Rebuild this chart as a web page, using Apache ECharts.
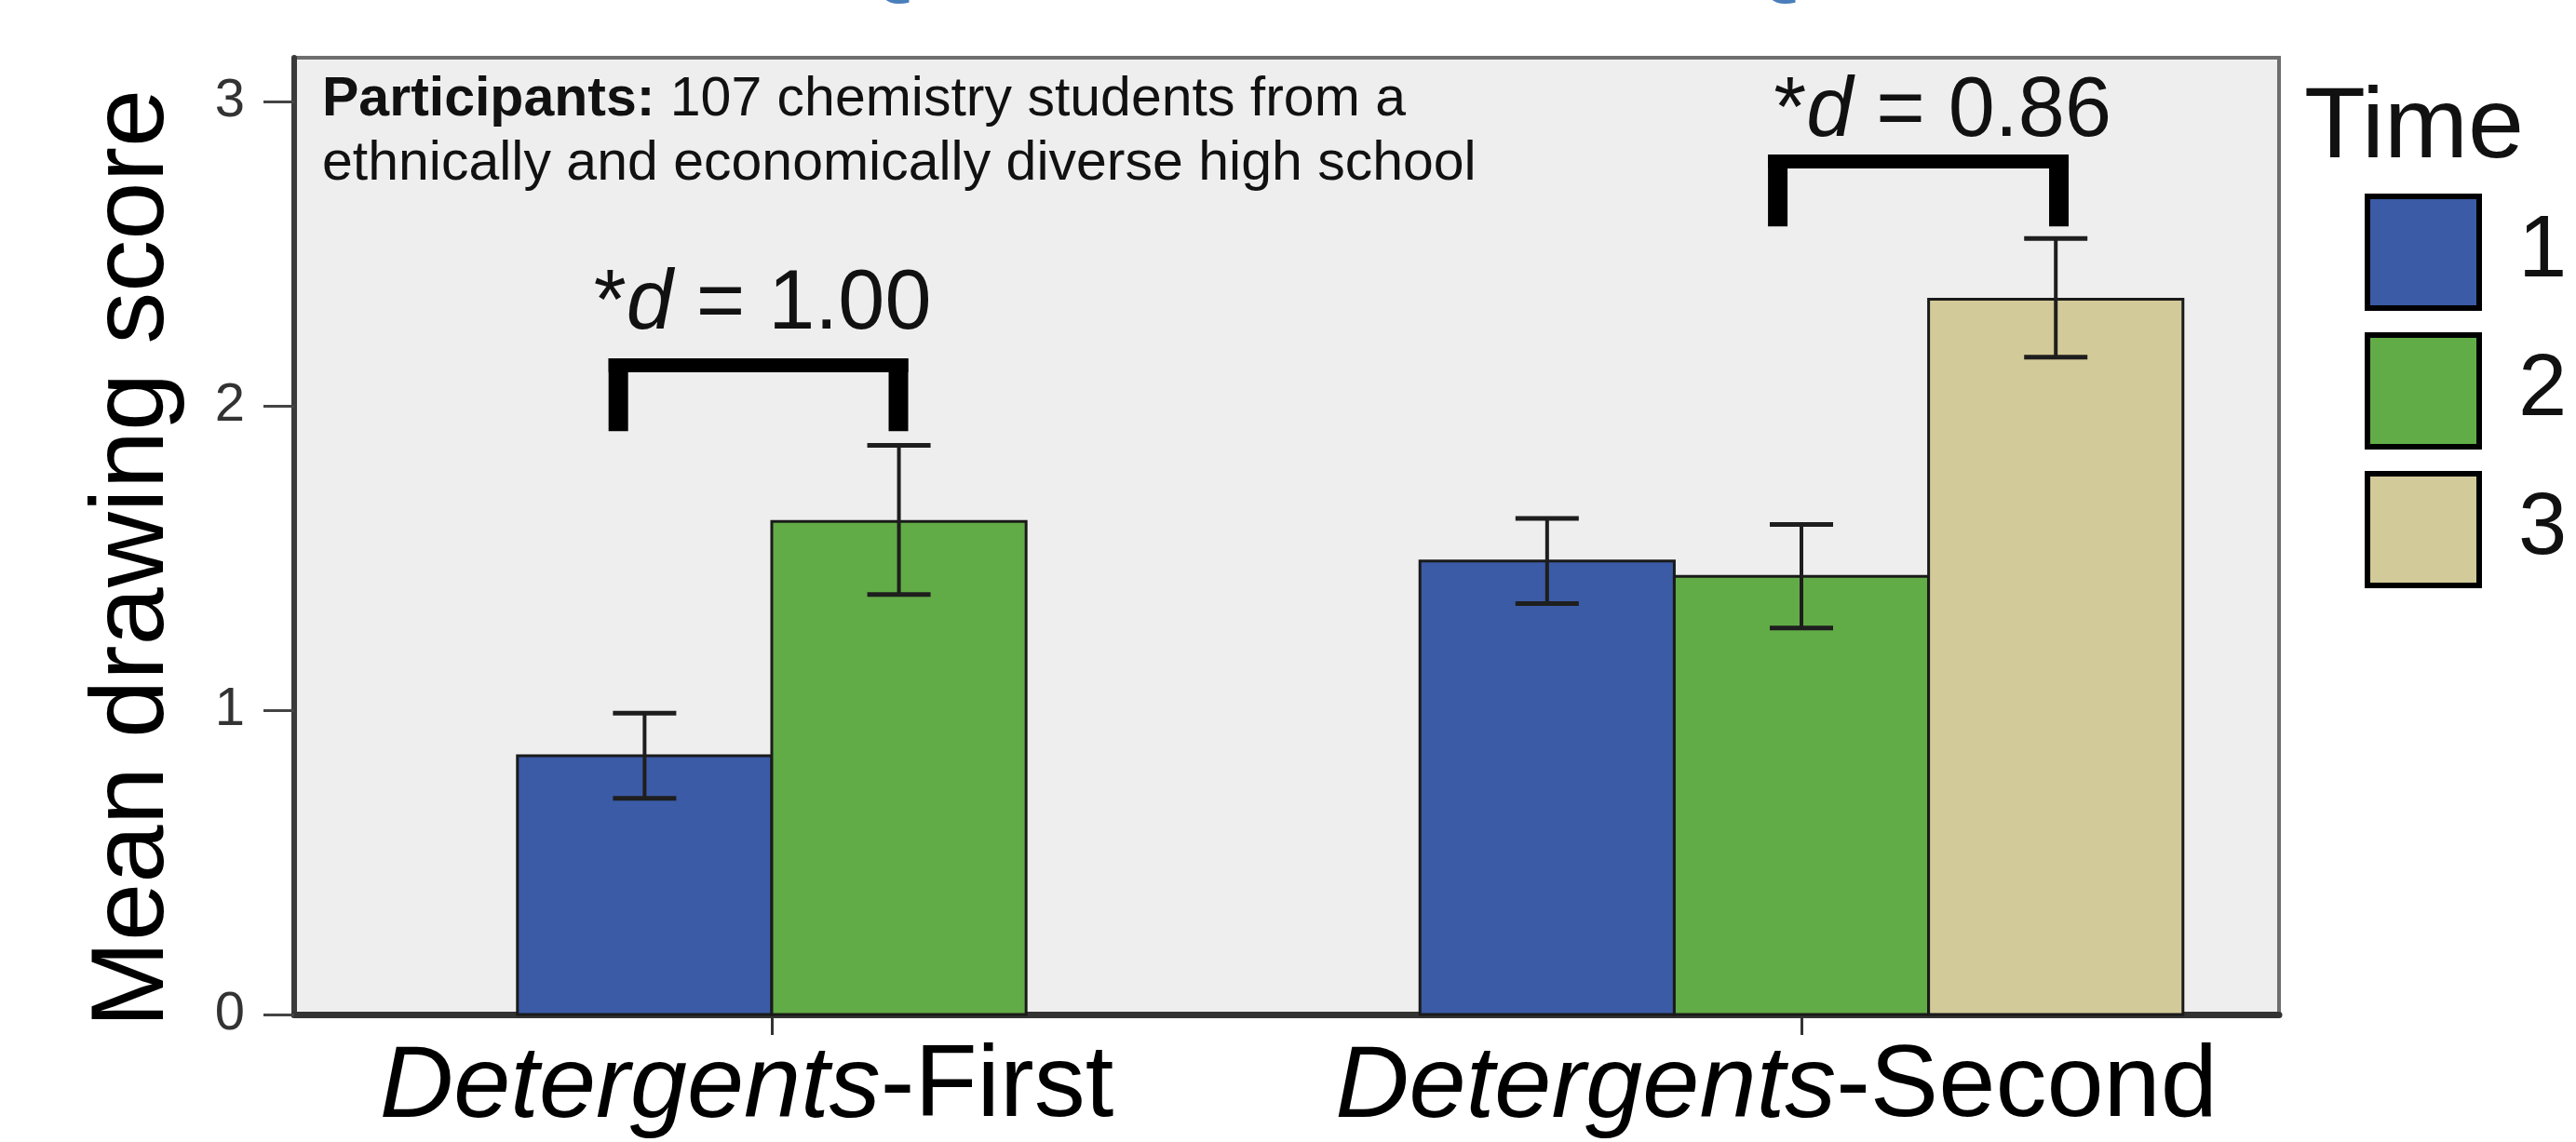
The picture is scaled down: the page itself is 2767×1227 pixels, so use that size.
<!DOCTYPE html>
<html>
<head>
<meta charset="utf-8">
<title>Mean drawing score</title>
<script src="https://cdn.jsdelivr.net/npm/echarts@6.0.0/dist/echarts.min.js"></script>
<style>
  html, body { margin: 0; padding: 0; background: #ffffff; }
  #chart { width: 2767px; height: 1227px; }
</style>
</head>
<body>
<div id="chart"></div>
<script>
// ---- data ----
var categories = ['Detergents-First', 'Detergents-Second'];
var timeNames = ['1', '2', '3'];
var time1 = [0.85, 1.49];
var time2 = [1.62, 1.44];
var time3 = [null, 2.35];
var time1Low = [0.71, 1.35];
var time1High = [0.99, 1.63];
var time2Low = [1.38, 1.27];
var time2High = [1.87, 1.61];
var time3Low = [null, 2.16];
var time3High = [null, 2.55];
var yTicks = [0, 1, 2, 3];
var effectSizes = ['1.00', '0.86'];
var headingWords = ['Results:', 'Quantitative', 'and', 'Qualitative'];

var FONT = 'Liberation Sans, Arial, Helvetica, sans-serif';
var colors = ['#3b5ba6', '#62ac47', '#d2ca98'];
var seriesValues = [time1, time2, time3];
var seriesLow = [time1Low, time2Low, time3Low];
var seriesHigh = [time1High, time2High, time3High];

// bar width in x-axis units (one unit = distance between the two groups)
var BAR_W = 0.247;

// brackets over the compared bars (data units), one per effect size
var brackets = [
  { x1: -0.149, x2: 0.123, top: 2.156, bottom: 1.917, textX: -0.173, textY: 2.251 },
  { x1: 0.977, x2: 1.250, top: 2.826, bottom: 2.590, textX: 0.973, textY: 2.884 }
];

function barRenderer(s) {
  return function (params, api) {
    var ci = api.value(0);
    var val = api.value(1);
    var lo = api.value(2);
    var hi = api.value(3);
    var present = [];
    for (var k = 0; k < seriesValues.length; k++) {
      if (seriesValues[k][ci] != null) present.push(k);
    }
    var rank = present.indexOf(s);
    var mid = ci + (rank - (present.length - 1) / 2) * BAR_W;
    var pBase = api.coord([mid - BAR_W / 2, 0]);
    var pTop = api.coord([mid + BAR_W / 2, val]);
    var cx = api.coord([mid, 0])[0];
    var yLo = api.coord([mid, lo])[1];
    var yHi = api.coord([mid, hi])[1];
    var capHalf = 34;
    return {
      type: 'group',
      children: [
        {
          type: 'rect',
          shape: { x: pBase[0], y: pTop[1], width: pTop[0] - pBase[0], height: pBase[1] - pTop[1] },
          style: { fill: colors[s], stroke: '#1a1a1a', lineWidth: 3 }
        },
        { type: 'line', shape: { x1: cx, y1: yLo, x2: cx, y2: yHi }, style: { stroke: '#1e1e1e', lineWidth: 4 } },
        { type: 'line', shape: { x1: cx - capHalf, y1: yHi, x2: cx + capHalf, y2: yHi }, style: { stroke: '#1e1e1e', lineWidth: 5 } },
        { type: 'line', shape: { x1: cx - capHalf, y1: yLo, x2: cx + capHalf, y2: yLo }, style: { stroke: '#1e1e1e', lineWidth: 5 } }
      ]
    };
  };
}

function bracketRenderer(params, api) {
  var b = brackets[params.dataIndex];
  var legW = 21, barH = 15;
  var pL = api.coord([b.x1, b.top]);
  var pR = api.coord([b.x2, b.bottom]);
  var pT = api.coord([b.textX, b.textY]);
  return {
    type: 'group',
    children: [
      { type: 'rect', shape: { x: pL[0] - legW / 2, y: pL[1], width: pR[0] - pL[0] + legW, height: barH }, style: { fill: '#000' } },
      { type: 'rect', shape: { x: pL[0] - legW / 2, y: pL[1], width: legW, height: pR[1] - pL[1] }, style: { fill: '#000' } },
      { type: 'rect', shape: { x: pR[0] - legW / 2, y: pL[1], width: legW, height: pR[1] - pL[1] }, style: { fill: '#000' } },
      {
        type: 'text',
        style: {
          x: pT[0], y: pT[1] - 26,
          text: '{r|*}{i|d}{r| = ' + effectSizes[params.dataIndex] + '}',
          align: 'left', verticalAlign: 'middle',
          rich: {
            r: { fontSize: 90, fontFamily: FONT, fill: '#111' },
            i: { fontSize: 90, fontFamily: FONT, fontStyle: 'italic', fill: '#111' }
          }
        }
      }
    ]
  };
}

var series = [];
for (var s = 0; s < seriesValues.length; s++) {
  var data = [];
  for (var c = 0; c < categories.length; c++) {
    if (seriesValues[s][c] != null) {
      data.push([c, seriesValues[s][c], seriesLow[s][c], seriesHigh[s][c]]);
    }
  }
  series.push({
    name: timeNames[s],
    type: 'custom',
    coordinateSystem: 'cartesian2d',
    itemStyle: { color: colors[s] },
    encode: { x: 0, y: 1 },
    renderItem: barRenderer(s),
    data: data
  });
}
series.push({
  name: 'effects',
  type: 'custom',
  coordinateSystem: 'cartesian2d',
  renderItem: bracketRenderer,
  data: brackets.map(function (b, i) { return [i]; }),
  z: 5
});

// slide heading, almost entirely cut off at the top edge
var headingLeft = [365, 889, 1584, 1841];
var headingTitles = headingWords.map(function (w, i) {
  return {
    left: headingLeft[i], top: -124,
    text: w,
    textStyle: { fontSize: 128, fontFamily: FONT, fontWeight: 'normal', color: i % 2 ? '#4a7ebb' : '#000' }
  };
});

var chart = echarts.init(document.getElementById('chart'));
var option = {
  animation: false,
  backgroundColor: '#ffffff',
  title: headingTitles.concat([
    {
      left: 2470, top: 80,
      text: 'Time',
      textStyle: { fontSize: 108, fontFamily: FONT, fontWeight: 'normal', color: '#111' }
    },
    {
      left: 341, top: 68,
      text: '{b|Participants:}{r| 107 chemistry students from a}\n{r|ethnically and economically diverse high school}',
      textStyle: {
        rich: {
          b: { fontSize: 59, fontFamily: FONT, fontWeight: 'bold', color: '#111', lineHeight: 69 },
          r: { fontSize: 59, fontFamily: FONT, fontWeight: 'normal', color: '#111', lineHeight: 69 }
        }
      }
    }
  ]),
  legend: {
    orient: 'vertical',
    left: 2535, top: 203,
    data: timeNames,
    itemWidth: 120, itemHeight: 120, itemGap: 23,
    icon: 'rect',
    itemStyle: { borderColor: '#000', borderWidth: 6 },
    textStyle: { fontSize: 94, fontFamily: FONT, color: '#111', padding: [0, 0, 0, 37] },
    selectedMode: false
  },
  grid: {
    left: 316, right: 319, top: 62, bottom: 137,
    show: true, backgroundColor: '#eeeeee', borderColor: '#6e6e6e', borderWidth: 4
  },
  xAxis: {
    type: 'value',
    min: -0.4638, max: 1.4638,
    axisLine: { show: true, onZero: false, lineStyle: { color: '#333', width: 7 } },
    axisTick: { show: true, customValues: [0, 1], length: 22, lineStyle: { color: '#333', width: 3 } },
    axisLabel: {
      customValues: [0, 1],
      margin: 24,
      padding: [0, 54, 0, 0],
      formatter: function (v) {
        var name = categories[Math.round(v)];
        var cut = name.indexOf('-');
        return '{i|' + name.slice(0, cut) + '}{r|' + name.slice(cut) + '}';
      },
      rich: {
        i: { fontSize: 110, fontFamily: FONT, fontStyle: 'italic', color: '#000' },
        r: { fontSize: 110, fontFamily: FONT, color: '#000' }
      }
    },
    splitLine: { show: false }
  },
  yAxis: {
    type: 'value',
    min: 0, max: 3.144, interval: 1,
    name: 'Mean drawing score',
    nameLocation: 'middle',
    nameRotate: 90,
    nameGap: 116,
    nameTextStyle: { fontSize: 112, fontFamily: FONT, color: '#000', padding: [0, 48, 0, 0] },
    axisLine: { show: true, onZero: false, lineStyle: { color: '#3a3a3a', width: 6 } },
    axisTick: { show: true, customValues: yTicks, length: 33, lineStyle: { color: '#444', width: 3 } },
    axisLabel: { customValues: yTicks, margin: 53, fontSize: 58, fontFamily: FONT, color: '#333' },
    splitLine: { show: false }
  },
  series: series
};
chart.setOption(option);
</script>
</body>
</html>
